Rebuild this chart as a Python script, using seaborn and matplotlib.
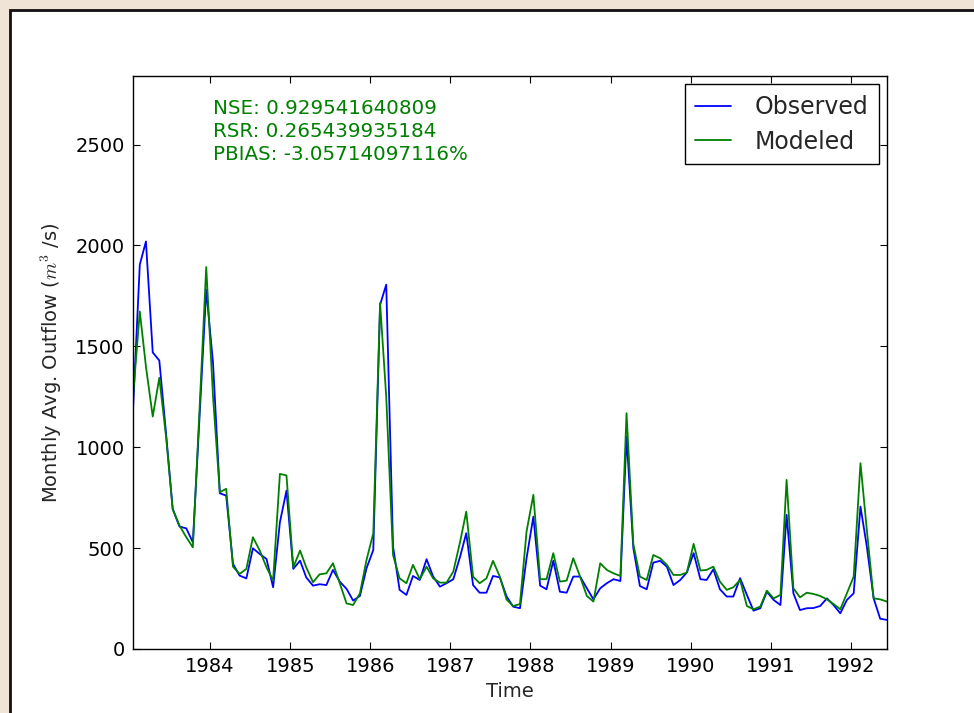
import numpy as np
import pandas as pd
import matplotlib
matplotlib.use("Agg")
import matplotlib.pyplot as plt
import matplotlib.dates as mdates
from matplotlib.patches import Rectangle
import seaborn as sns

# ---- data (monthly, Jan 1983 - Jun 1992) ----
start_month = "1983-01-01"
n_months = 114
observed = [1185, 1905, 2020, 1470, 1430, 1066, 694, 607, 598, 529,
            1160, 1781, 1418, 772, 760, 422, 364, 350, 499, 471,
            446, 306, 628, 785, 397, 438, 355, 314, 321, 317,
            392, 334, 298, 240, 263, 400, 491, 1706, 1806, 508,
            293, 268, 362, 342, 445, 359, 309, 326, 346, 458,
            574, 317, 279, 279, 362, 355, 260, 210, 202, 450,
            656, 314, 296, 437, 284, 279, 359, 359, 301, 246,
            301, 326, 346, 337, 1053, 500, 312, 296, 428, 437,
            408, 317, 342, 379, 475, 346, 342, 395, 296, 260,
            260, 351, 268, 190, 202, 284, 243, 218, 665, 276,
            193, 202, 203, 213, 251, 218, 177, 243, 276, 706,
            508, 251, 150, 144]
modeled = [1250, 1673, 1400, 1152, 1344, 1050, 694, 612, 554, 504,
           1200, 1893, 1250, 777, 794, 408, 372, 397, 554, 488,
           405, 339, 868, 860, 405, 488, 405, 331, 370, 375,
           425, 326, 226, 218, 276, 441, 574, 1715, 1250, 466,
           350, 326, 417, 346, 408, 350, 329, 329, 384, 532,
           681, 359, 326, 350, 437, 359, 245, 213, 223, 582,
           764, 346, 346, 475, 334, 339, 450, 359, 263, 235,
           425, 392, 375, 362, 1169, 520, 359, 342, 466, 450,
           417, 367, 367, 379, 521, 389, 392, 408, 334, 293,
           306, 342, 213, 197, 210, 289, 251, 268, 838, 301,
           256, 279, 273, 263, 246, 223, 197, 276, 359, 921,
           590, 251, 246, 235]
series_names = ["Observed", "Modeled"]
series_colors = ["#0000ff", "#008000"]
stats_lines = ["NSE: 0.929541640809",
               "RSR: 0.265439935184",
               "PBIAS: -3.05714097116%"]
y_ticks = [0, 500, 1000, 1500, 2000, 2500]
x_label = "Time"
y_label = r"Monthly Avg. Outflow ($m^3$ /s)"

dates = pd.date_range(start_month, periods=n_months, freq="MS") + pd.Timedelta(days=14)
df = pd.concat([
    pd.DataFrame({"Time": dates, "Outflow": observed, "Series": "Observed"}),
    pd.DataFrame({"Time": dates, "Outflow": modeled, "Series": "Modeled"}),
], ignore_index=True)

sns.set_style("ticks")
plt.rcParams.update({
    "font.family": ["DejaVu Sans"],
    "mathtext.fontset": "cm",
    "xtick.direction": "in", "ytick.direction": "in",
    "xtick.top": True, "ytick.right": True,
    "xtick.major.size": 5, "ytick.major.size": 5,
    "xtick.major.width": 0.8, "ytick.major.width": 0.8,
    "xtick.color": "black", "ytick.color": "black",
    "axes.edgecolor": "black", "axes.linewidth": 1.0,
    "xtick.labelsize": 14, "ytick.labelsize": 14,
    "axes.labelsize": 14,
})

fig = plt.figure(figsize=(9.74, 7.13), dpi=100)
fig.patch.set_facecolor("#efe4d6")
fig.add_artist(Rectangle((10 / 974, -0.1), 1.2, 1.1 - 10 / 713,
                         transform=fig.transFigure, facecolor="white",
                         edgecolor="#111111", linewidth=2, zorder=-10))
ax = fig.add_axes([133 / 974, 1 - 649 / 713, (887 - 133) / 974, (649 - 76) / 713])
ax.set_facecolor("white")

sns.lineplot(data=df, x="Time", y="Outflow", hue="Series",
             hue_order=series_names,
             palette=dict(zip(series_names, series_colors)),
             linewidth=1.3, ax=ax)

ax.set_xlim(dates[0], dates[-1])
ax.set_ylim(0, 2840)
ax.set_yticks(y_ticks)
ax.xaxis.set_major_locator(mdates.YearLocator())
ax.xaxis.set_major_formatter(mdates.DateFormatter("%Y"))
ax.tick_params(axis="both", pad=6)
ax.set_xlabel(x_label, labelpad=4)
ax.set_ylabel(y_label, labelpad=8)
for s in ax.spines.values():
    s.set_visible(True)

ax.text(0.106, 0.96, "\n".join(stats_lines), transform=ax.transAxes,
        color="#008000", fontsize=14.3, va="top", ha="left", linespacing=1.27)

leg = ax.legend(loc="upper right", fontsize=17, frameon=True, fancybox=False,
                edgecolor="black", handlelength=1.5, handletextpad=1.0,
                borderpad=0.45, labelspacing=0.45, borderaxespad=0.35)
leg.get_frame().set_linewidth(1.0)
leg.get_frame().set_alpha(1)
for h in leg.get_lines():
    h.set_linewidth(1.3)

fig.savefig("out.png", dpi=100, facecolor=fig.get_facecolor())
